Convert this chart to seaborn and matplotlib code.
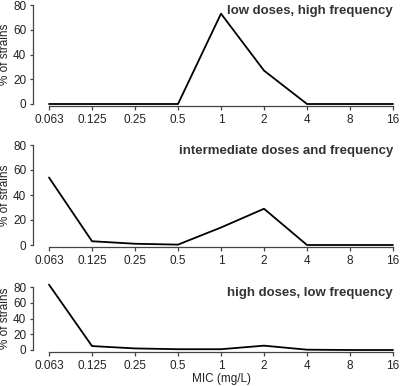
import pandas as pd
import matplotlib
matplotlib.use("Agg")
import matplotlib.pyplot as plt
import seaborn as sns

# data (% of strains per MIC)
mic_labels = ["0.063", "0.125", "0.25", "0.5", "1", "2", "4", "8", "16"]
low_dose = [0, 0, 0, 0, 73, 27, 0, 0, 0]
intermediate_dose = [54, 3, 1, 0.3, 14, 29, 0, 0, 0]
high_dose = [83, 5, 2, 1, 1, 5.5, 0.4, 0, 0]
titles = ["low doses, high frequency",
          "intermediate doses and frequency",
          "high doses, low frequency"]

sns.set_style("ticks")
plt.rcParams["font.family"] = ["Liberation Sans", "DejaVu Sans"]

W, H = 400, 386
fig = plt.figure(figsize=(W / 100, H / 100), dpi=100)

# panel boxes in pixels: (top of 80, bottom at 0)
panels = [(5, 104), (145, 245), (287, 350)]
series = [low_dose, intermediate_dose, high_dose]
x_left, x_right = 49, 393
axis_col = "#444444"

for (top, bottom), values, title in zip(panels, series, titles):
    ax = fig.add_axes([x_left / W, 1 - bottom / H,
                       (x_right - x_left) / W, (bottom - top) / H])
    df = pd.DataFrame({"pos": range(len(mic_labels)), "pct": values})
    sns.lineplot(data=df, x="pos", y="pct", ax=ax, color="black",
                 linewidth=1.3, clip_on=False)
    ax.set_xlim(0, 8)
    ax.set_ylim(0, 80)
    ax.set_xticks(range(len(mic_labels)))
    ax.set_xticklabels(mic_labels)
    ax.set_yticks([0, 20, 40, 60, 80])
    ax.set_xlabel("")
    ax.set_ylabel("% of strains", fontsize=8.5, color="#222222")
    ax.yaxis.set_label_coords((11.5 - x_left) / (x_right - x_left), 0.5)
    sns.despine(ax=ax)
    # spine offsets are in points (1 px = 0.72 pt at 100 dpi)
    ax.spines["left"].set_position(("outward", 11.5))
    ax.spines["bottom"].set_position(("outward", 1.4))
    for s in ["left", "bottom"]:
        ax.spines[s].set_color(axis_col)
        ax.spines[s].set_linewidth(0.9)
    ax.tick_params(axis="y", length=2.3, width=0.9, color=axis_col,
                   labelcolor="#222222", pad=2.5, labelsize=8.5)
    ax.tick_params(axis="x", length=3, width=0.9, color=axis_col,
                   labelcolor="#222222", pad=2.5, labelsize=8.5)
    ax.text(1.0, 1.0, title, transform=ax.transAxes, ha="right", va="top",
            fontweight="bold", color="#333333", fontsize=9.5)

fig.text(221 / W, 1 - 379 / H, "MIC (mg/L)", ha="center", va="center",
         fontsize=8.5, color="#222222")

plt.savefig("out.png", dpi=100)
